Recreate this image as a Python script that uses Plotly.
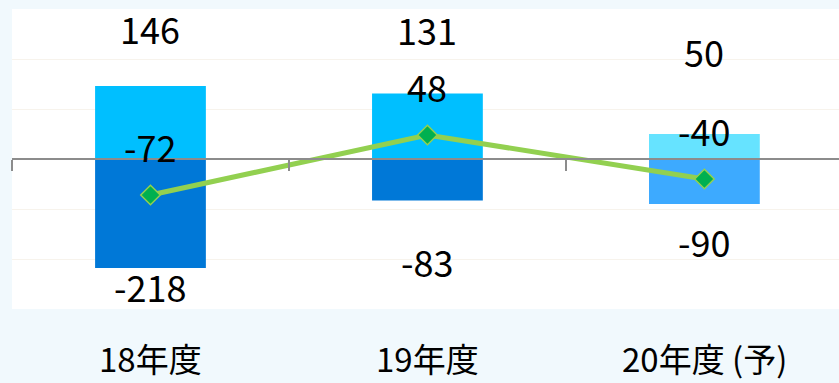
import plotly.graph_objects as go

categories = ["18年度", "19年度", "20年度 (予)"]
positive = [146, 131, 50]
negative = [-218, -83, -90]
net = [-72, 48, -40]

pos_colors = ["#00BFFF", "#00BFFF", "#66E3FF"]
neg_colors = ["#0078D7", "#0078D7", "#3DAAFF"]
pos_label_shift = [58, 65, 83]
neg_label_shift = [-18, -60, -37]
net_label_shift = 49

FONT = "Noto Sans CJK JP"
FS = 36

fig = go.Figure()
fig.add_trace(go.Bar(x=categories, y=positive, marker=dict(color=pos_colors, line=dict(width=0)),
                     width=0.4, showlegend=False, hoverinfo="skip"))
fig.add_trace(go.Bar(x=categories, y=negative, marker=dict(color=neg_colors, line=dict(width=0)),
                     width=0.4, showlegend=False, hoverinfo="skip"))
fig.add_trace(go.Scatter(x=categories, y=net, mode="lines+markers",
                         line=dict(color="#92D050", width=5),
                         marker=dict(symbol="diamond", size=15, color="#00B050",
                                     line=dict(color="#92D050", width=1.5)),
                         showlegend=False, hoverinfo="skip"))

ann = []
for c, v, s in zip(categories, positive, pos_label_shift):
    ann.append(dict(x=c, y=v, text=str(v), showarrow=False, yshift=s, yanchor="middle",
                    font=dict(family=FONT, size=FS, color="#000000")))
for c, v, s in zip(categories, negative, neg_label_shift):
    ann.append(dict(x=c, y=v, text=str(v), showarrow=False, yshift=s, yanchor="middle",
                    font=dict(family=FONT, size=FS, color="#000000")))
for c, v in zip(categories, net):
    ann.append(dict(x=c, y=v, text=str(v), showarrow=False, yshift=net_label_shift, yanchor="middle",
                    font=dict(family=FONT, size=FS, color="#000000")))
for c in categories:
    ann.append(dict(x=c, y=0, yref="paper", text=c, showarrow=False, yshift=-74, yanchor="bottom",
                    borderpad=0, font=dict(family=FONT, size=33, color="#000000")))

fig.update_layout(
    width=839, height=383,
    margin=dict(l=12, r=0, t=9, b=74),
    paper_bgcolor="#F1F9FD",
    plot_bgcolor="#FFFFFF",
    barmode="relative",
    bargap=0.6,
    annotations=ann,
    xaxis=dict(type="category", range=[-0.5, 2.486], anchor="free", position=0.5,
               showline=True, linecolor="#8C8C8C", linewidth=2,
               ticks="outside", tickson="boundaries", ticklen=11, tickcolor="#8C8C8C", tickwidth=1.5,
               showticklabels=False, showgrid=False, zeroline=False),
    yaxis=dict(range=[-300, 300], dtick=100, showticklabels=False, showgrid=True,
               gridcolor="#F7F3EC", gridwidth=1, zeroline=False, showline=False),
)

fig.write_html("out.html")
